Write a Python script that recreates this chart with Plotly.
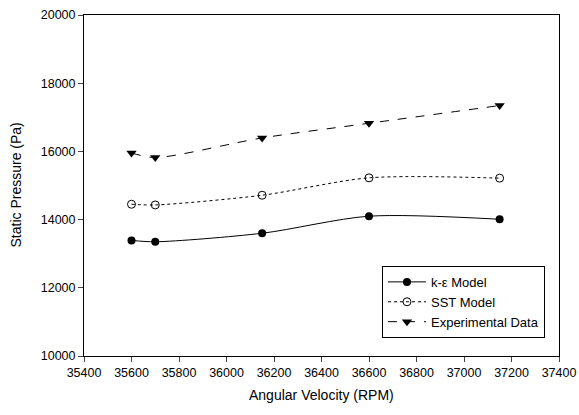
import plotly.graph_objects as go

rpm = [35600, 35700, 36150, 36600, 37150]
k_eps = [13390, 13350, 13600, 14100, 14010]
sst = [14450, 14430, 14715, 15225, 15215]
exp_data = [15955, 15820, 16395, 16825, 17345]

x_ticks = list(range(35400, 37401, 200))
y_ticks = list(range(10000, 20001, 2000))

fig = go.Figure()
fig.add_trace(go.Scatter(x=rpm, y=k_eps, name="k-ε Model", mode="lines+markers",
                         line=dict(color="black", width=1, shape="spline", smoothing=0.8),
                         marker=dict(symbol="circle", size=8, color="black")))
fig.add_trace(go.Scatter(x=rpm, y=sst, name="SST Model", mode="lines+markers",
                         line=dict(color="black", width=1, dash="dot", shape="spline", smoothing=0.8),
                         marker=dict(symbol="circle-open", size=8, color="black", line=dict(width=1))))
fig.add_trace(go.Scatter(x=rpm, y=exp_data, name="Experimental Data", mode="lines+markers",
                         line=dict(color="black", width=1, dash="dash", shape="spline", smoothing=0.8),
                         marker=dict(symbol="triangle-down", size=9, color="black")))

font = "Liberation Sans, Arial, sans-serif"
fig.update_layout(
    width=579, height=415,
    margin=dict(l=84, r=20, t=15, b=59),
    paper_bgcolor="white", plot_bgcolor="white",
    font=dict(family=font, size=12.5, color="black"),
    showlegend=True,
    legend=dict(x=0.9705, y=0.053, xanchor="right", yanchor="bottom",
                bordercolor="black", borderwidth=1, bgcolor="white",
                font=dict(size=13), tracegroupgap=0, itemwidth=38,
                traceorder="normal"),
    xaxis=dict(range=[35400, 37400], tickvals=x_ticks, ticktext=[str(v) for v in x_ticks],
               ticks="outside", ticklen=5, automargin=False,
               showgrid=False, zeroline=False, showline=True, linecolor="black", linewidth=1,
               mirror=True, tickfont=dict(size=12.5)),
    yaxis=dict(range=[10000, 20000], tickvals=y_ticks, ticktext=[str(v) for v in y_ticks],
               ticks="outside", ticklen=5, automargin=False,
               showgrid=False, zeroline=False, showline=True, linecolor="black", linewidth=1,
               mirror=True, tickfont=dict(size=12.5)),
    annotations=[
        dict(text="Angular Velocity (RPM)", xref="paper", yref="paper", x=0.5, y=0,
             xanchor="center", yanchor="middle", yshift=-39, showarrow=False,
             font=dict(size=14)),
        dict(text="Static Pressure (Pa)", xref="paper", yref="paper", x=0, y=0.5,
             xanchor="center", yanchor="middle", xshift=-69, textangle=-90, showarrow=False,
             font=dict(size=14)),
    ],
)
fig.write_html("out.html", config={"displayModeBar": False},
               post_script="document.body.style.margin='0';document.body.style.overflow='hidden';")
